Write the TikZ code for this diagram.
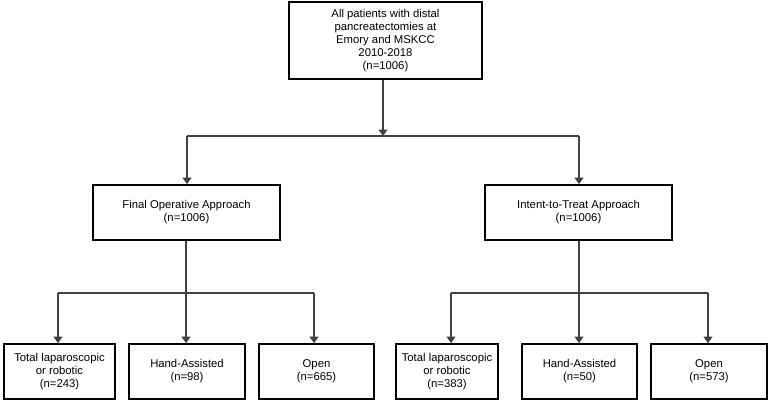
\documentclass[tikz,border=0pt]{standalone}
\usepackage{fontspec}
\setmainfont{Liberation Sans}
\usetikzlibrary{arrows.meta}
\begin{document}
\begin{tikzpicture}[x=1pt,y=-1pt,
  box/.style={draw=black,line width=1.8pt,align=center,inner sep=0pt,
    font=\fontsize{11.3}{13}\selectfont,minimum height=55pt},
  conn/.style={draw=black!75,line width=1.1pt},
  arr/.style={conn,-{Triangle[width=9pt,length=6.5pt]}}]
\useasboundingbox (0,0) rectangle (770,402);
\node[box,minimum width=193pt,minimum height=77pt] (top) at (385.5,40.5)
  {All patients with distal\\pancreatectomies at\\Emory and MSKCC\\2010-2018\\(n=1006)};
\node[box,minimum width=187pt] (fin) at (186.5,212.5) {Final Operative Approach\\(n=1006)};
\node[box,minimum width=187pt] (itt) at (578.5,212.5) {Intent-to-Treat Approach\\(n=1006)};
\node[box,minimum width=111pt] (b1) at (59.5,371.5) {Total laparoscopic\\or robotic\\(n=243)};
\node[box,minimum width=116pt] (b2) at (187,371.5) {Hand-Assisted\\(n=98)};
\node[box,minimum width=115pt] (b3) at (316.5,371.5) {Open\\(n=665)};
\node[box,minimum width=102pt] (b4) at (447,371.5) {Total laparoscopic\\or robotic\\(n=383)};
\node[box,minimum width=115pt] (b5) at (579.5,371.5) {Hand-Assisted\\(n=50)};
\node[box,minimum width=116pt] (b6) at (709,371.5) {Open\\(n=573)};
\coordinate (j0) at (383,136);
\coordinate (jl) at (187,136);
\coordinate (jr) at (579,136);
\coordinate (fl) at (186,293);
\coordinate (f1) at (58,293);
\coordinate (f3) at (314,293);
\coordinate (il) at (579,293);
\coordinate (i1) at (451,293);
\coordinate (i3) at (708,293);
\draw[arr] (top.south -| j0) -- (j0);
\draw[conn] (jl) -- (jr);
\draw[arr] (jl) -- (jl |- fin.north);
\draw[arr] (jr) -- (jr |- itt.north);
\draw[conn] (fin.south -| fl) -- (fl);
\draw[conn] (f1) -- (f3);
\draw[arr] (f1) -- (f1 |- b1.north);
\draw[arr] (fl) -- (fl |- b2.north);
\draw[arr] (f3) -- (f3 |- b3.north);
\draw[conn] (itt.south -| il) -- (il);
\draw[conn] (i1) -- (i3);
\draw[arr] (i1) -- (i1 |- b4.north);
\draw[arr] (il) -- (il |- b5.north);
\draw[arr] (i3) -- (i3 |- b6.north);
\end{tikzpicture}
\end{document}
